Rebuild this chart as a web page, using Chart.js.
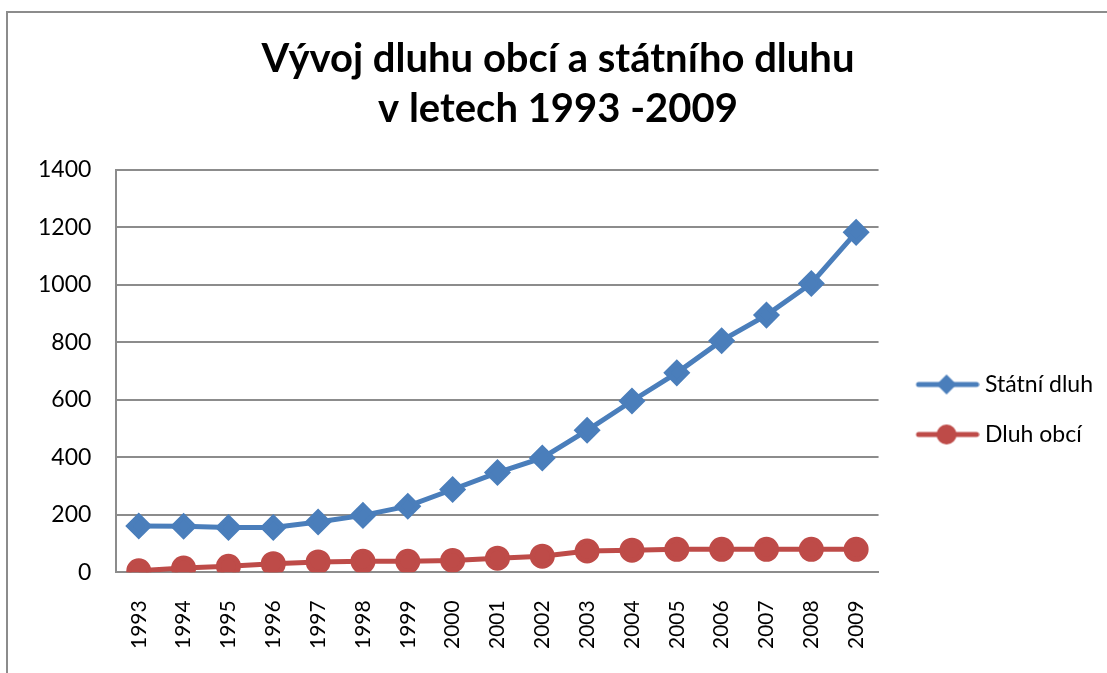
<!DOCTYPE html>
<html lang="cs">
<head>
<meta charset="utf-8">
<title>Vývoj dluhu obcí a státního dluhu</title>
<script src="https://cdn.jsdelivr.net/npm/chart.js@4.4.1/dist/chart.umd.min.js"></script>
<style>
  html, body { margin: 0; padding: 0; background: #fff; overflow: hidden; }
  #frame {
    position: absolute; left: 6px; top: 11px;
    width: 1200px; height: 800px;
    border: 2px solid #8c8c8c;
  }
  #wrap { position: absolute; left: 0; top: 0; width: 1107px; height: 673px; }
</style>
</head>
<body>
<div id="frame"></div>
<div id="wrap"><canvas id="debtChart" width="1107" height="673"></canvas></div>
<script>
// data (mld. Kč)
const years = ['1993', '1994', '1995', '1996', '1997', '1998', '1999', '2000', '2001',
               '2002', '2003', '2004', '2005', '2006', '2007', '2008', '2009'];
const statniDluh = [161, 160, 156, 156, 175, 198, 230, 288, 347, 398, 494, 596, 694, 806, 895, 1005, 1183];
const dluhObci = [5, 15, 21, 30, 36, 38, 38, 41, 49, 56, 74, 77, 80, 80, 80, 80, 80];
const seriesNames = ['Státní dluh', 'Dluh obcí'];
const titleLines = ['Vývoj dluhu obcí a státního dluhu', 'v letech 1993 -2009'];

const BLUE = '#4a7ebb';
const RED = '#be4b48';
const GRID = '#8c8c8c';

// small legend icon: line with marker in the middle
// (drawn wider than the legend box so the line reaches close to the text)
function legendIcon(color, shape) {
  const c = document.createElement('canvas');
  c.width = 80; c.height = 22;
  const g = c.getContext('2d');
  g.strokeStyle = color;
  g.lineWidth = 5;
  g.lineCap = 'round';
  g.beginPath(); g.moveTo(19, 11); g.lineTo(77, 11); g.stroke();
  g.fillStyle = color;
  g.beginPath();
  if (shape === 'diamond') {
    g.moveTo(47, 1); g.lineTo(57, 11); g.lineTo(47, 21); g.lineTo(37, 11);
  } else {
    g.arc(47, 11, 10, 0, Math.PI * 2);
  }
  g.closePath(); g.fill();
  return c;
}
const icons = [legendIcon(BLUE, 'diamond'), legendIcon(RED, 'circle')];

const ctx = document.getElementById('debtChart').getContext('2d');
new Chart(ctx, {
  type: 'line',
  data: {
    labels: years,
    datasets: [{
      label: seriesNames[0],
      data: statniDluh,
      borderColor: BLUE,
      backgroundColor: BLUE,
      borderWidth: 5,
      pointStyle: 'rectRot',
      pointRadius: 10,
      pointHoverRadius: 10,
      tension: 0
    }, {
      label: seriesNames[1],
      data: dluhObci,
      borderColor: RED,
      backgroundColor: RED,
      borderWidth: 5,
      pointStyle: 'circle',
      pointRadius: 10,
      pointHoverRadius: 10,
      tension: 0
    }]
  },
  options: {
    responsive: false,
    animation: false,
    layout: { padding: { left: 13, right: 4, top: 0, bottom: -4 } },
    scales: {
      x: {
        offset: true,
        grid: { display: false, drawTicks: false },
        border: { color: GRID, width: 2 },
        ticks: {
          color: '#000',
          font: { family: 'Lato', size: 21 },
          minRotation: 90, maxRotation: 90,
          autoSkip: false,
          padding: 28
        }
      },
      y: {
        min: 0, max: 1400,
        grid: { color: GRID, lineWidth: 2, drawTicks: false },
        border: { color: GRID, width: 2 },
        ticks: {
          stepSize: 200,
          color: '#000',
          font: { family: 'Lato', size: 23 },
          padding: 25,
          callback: v => String(v)
        }
      }
    },
    plugins: {
      title: {
        display: true,
        text: titleLines,
        color: '#000',
        font: { family: 'Lato', size: 40, weight: 'bold', lineHeight: 1.25 },
        padding: { top: 34, bottom: 36 }
      },
      legend: {
        position: 'right',
        title: { display: true, text: ' ', padding: 59, font: { size: 20 } },
        labels: {
          color: '#000',
          font: { family: 'Lato', size: 23 },
          usePointStyle: true,
          pointStyleWidth: 68,
          padding: 27,
          generateLabels(chart) {
            const items = Chart.defaults.plugins.legend.labels.generateLabels(chart);
            items.forEach((it, i) => { it.pointStyle = icons[i]; });
            return items;
          }
        }
      },
      tooltip: { enabled: false }
    }
  }
});
</script>
</body>
</html>
